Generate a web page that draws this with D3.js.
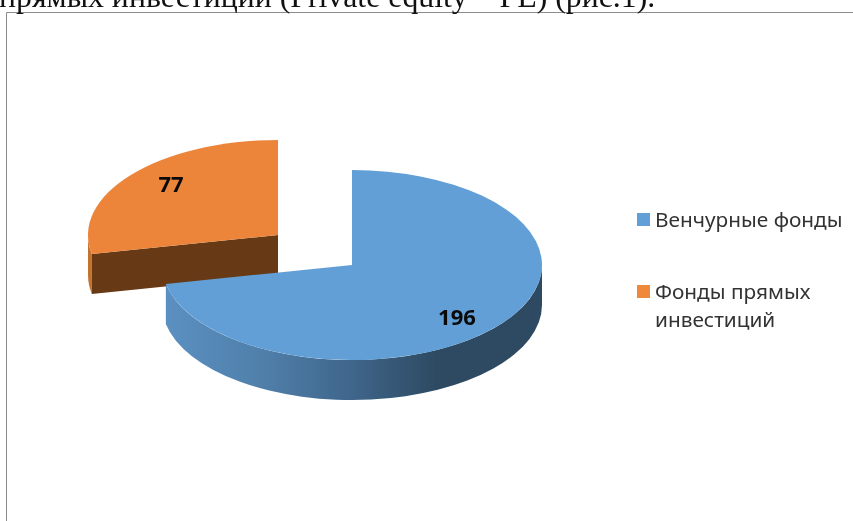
<!DOCTYPE html>
<html><head><meta charset="utf-8">
<script src="https://cdn.jsdelivr.net/npm/d3@7"></script>
<style>html,body{margin:0;padding:0;background:#fff;overflow:hidden}svg{display:block;filter:blur(0.35px)}</style>
</head><body><svg id="c" width="853" height="521"></svg>
<script>
const categories = ["Венчурные фонды", "Фонды прямых инвестиций"];
const values = [196, 77];
const dataLabels = ["196", "77"];
const legendLines = [["Венчурные фонды"], ["Фонды прямых", "инвестиций"]];
const caption = "прямых инвестиций (Private equity – PE) (рис.1).";
const topColors = ["#629fd6", "#ec853a"];

const svg = d3.select("#c");
const rx = 190, ry = 95, depth = 40;
const centres = [[352, 265], [278, 235]];
const slices = d3.pie().sort(null)(values);
const pt = (c, a, dy = 0) => [c[0] + rx * Math.sin(a), c[1] - ry * Math.cos(a) + dy];

function defs() {
  const d = svg.append("defs");
  const g = d.append("linearGradient").attr("id", "wall").attr("gradientUnits", "userSpaceOnUse")
    .attr("x1", 165).attr("x2", 542).attr("y1", 0).attr("y2", 0);
  [[0, "#5b90c2"], [0.25, "#5080ab"], [0.5, "#3f658a"], [0.72, "#2d4a62"], [1, "#2d4a62"]]
    .forEach(([o, c]) => g.append("stop").attr("offset", o).attr("stop-color", c));
}
defs();

function topPath(c, s) {
  const [x0, y0] = pt(c, s.startAngle), [x1, y1] = pt(c, s.endAngle);
  const large = s.endAngle - s.startAngle > Math.PI ? 1 : 0;
  return `M${c[0]},${c[1]}L${x0},${y0}A${rx},${ry} 0 ${large} 1 ${x1},${y1}Z`;
}
function wallPath(c, a0, a1) {
  const [x0, y0] = pt(c, a0), [x1, y1] = pt(c, a1), [x2, y2] = pt(c, a1, depth), [x3, y3] = pt(c, a0, depth);
  return `M${x0},${y0}A${rx},${ry} 0 0 1 ${x1},${y1}L${x2},${y2}A${rx},${ry} 0 0 0 ${x3},${y3}Z`;
}

// frame
svg.append("path").attr("d", "M6.5,521V12.5H853").attr("fill", "none").attr("stroke", "#8c8c8c").attr("stroke-width", 1);

// caption cut off by the top of the picture, as in the reference
svg.append("text").text(caption).attr("x", -1).attr("y", 7)
  .attr("font-family", "Liberation Serif").attr("font-size", 31.8).attr("fill", "#111");

// detached orange slice
const so = slices[1], co = centres[1];
const [oax, oay] = pt(co, so.startAngle);
svg.append("path").attr("d", wallPath(co, so.startAngle, 1.5 * Math.PI)).attr("fill", "#c4732f");
svg.append("path").attr("d", `M${co[0]},${co[1]}L${oax},${oay}v${depth}L${co[0]},${co[1] + depth}Z`).attr("fill", "#673a15");
svg.append("path").attr("d", topPath(co, so)).attr("fill", topColors[1]);

// blue slice
const sb = slices[0], cb = centres[0];
svg.append("path").attr("d", wallPath(cb, Math.PI / 2, sb.endAngle)).attr("fill", "url(#wall)");
svg.append("path").attr("d", topPath(cb, sb)).attr("fill", topColors[0]);

// data labels
const labelPos = [[457, 325], [171, 192]];
dataLabels.forEach((t, i) => svg.append("text").text(t)
  .attr("x", labelPos[i][0]).attr("y", labelPos[i][1]).attr("text-anchor", "middle")
  .attr("font-family", "Noto Sans").attr("font-weight", 700).attr("font-size", 22).attr("fill", "#0a0a0a"));

// legend
const keyY = [213, 285];
legendLines.forEach((lines, i) => {
  svg.append("rect").attr("x", 637).attr("y", keyY[i]).attr("width", 13).attr("height", 13).attr("fill", i ? "#f0883c" : topColors[0]);
  lines.forEach((t, j) => svg.append("text").text(t)
    .attr("x", 655).attr("y", keyY[i] + 14 + j * 28)
    .attr("font-family", "Noto Sans").attr("font-size", 20.8).attr("fill", "#333"));
});
</script></body></html>
